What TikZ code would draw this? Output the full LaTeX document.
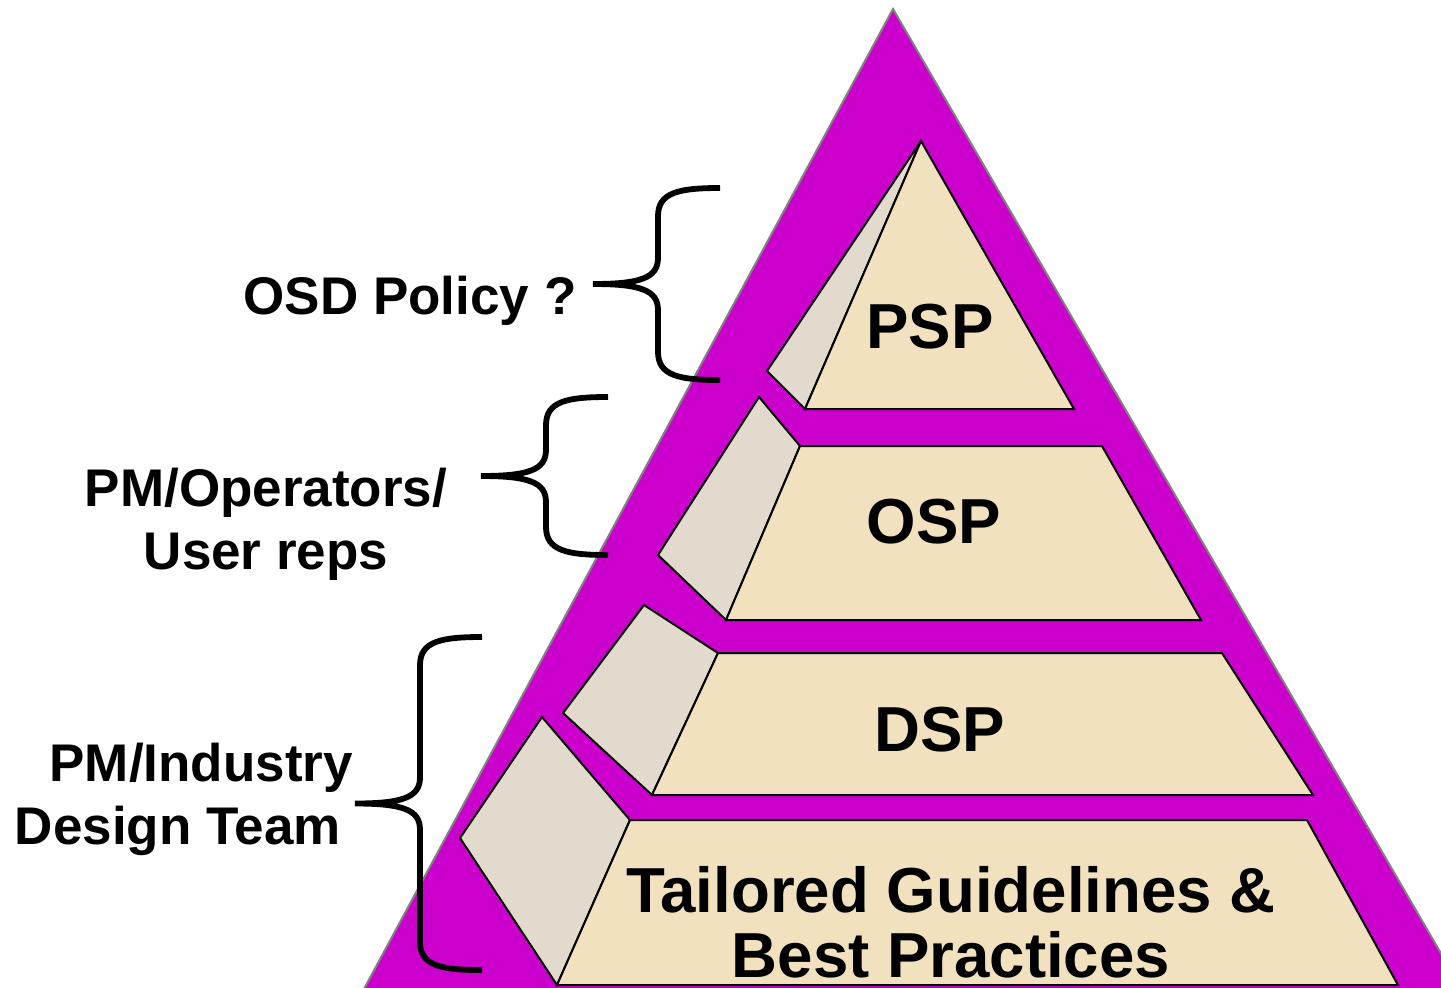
\documentclass[tikz,border=0pt]{standalone}
\usepackage{fontspec}
\setmainfont{Liberation Sans}
\usepackage{xcolor}
\usetikzlibrary{positioning}

\definecolor{pyrpurple}{RGB}{204,0,204}
\definecolor{pyrtan}{RGB}{241,225,190}
\definecolor{pyrside}{RGB}{226,218,205}

\tikzset{
  layer/.style={fill=pyrtan,draw=black,line width=1pt},
  side/.style={fill=pyrside,draw=black,line width=1pt},
  level/.style={font=\bfseries\fontsize{31.8}{32.5}\selectfont,align=center,anchor=base},
  who/.style={font=\bfseries\fontsize{26.5}{31.5}\selectfont,anchor=base},
  bracket/.style={draw=black,line width=2.9pt}
}

% curly bracket: ends at x=#1, from y=#2 down to y=#3, tip to the left
\newcommand{\curly}[3]{%
  \pgfmathsetmacro\ym{(#2+#3)/2}
  \draw[bracket] (#1,#2) .. controls (#1-40,#2) and (#1-62,#2+4) .. (#1-62,#2+28)
    -- (#1-62,\ym-26) .. controls (#1-62,\ym-6) and (#1-80,\ym) .. (#1-127,\ym)
    .. controls (#1-80,\ym) and (#1-62,\ym+6) .. (#1-62,\ym+26)
    -- (#1-62,#3-28) .. controls (#1-62,#3-4) and (#1-40,#3) .. (#1,#3);}

\begin{document}
\begin{tikzpicture}[x=0.5pt,y=-0.5pt]
  \useasboundingbox (0,0) rectangle (1441,987);
  \clip (0,0) rectangle (1441,987);

  % pyramid
  \draw[fill=pyrpurple,draw=gray,line width=1pt] (893,9) -- (1468,1000) -- (358,1000) -- cycle;

  \draw[side]  (921,141) -- (767,371) -- (805,409) -- cycle;
  \draw[layer] (921,141) -- (1074,409) -- (805,409) -- cycle;
  \draw[side]  (759,397) -- (800,446) -- (726,620) -- (658,555) -- cycle;
  \draw[layer] (800,446) -- (1102,446) -- (1201,620) -- (726,620) -- cycle;
  \draw[side]  (644,605) -- (718,653) -- (652,795) -- (563,713) -- cycle;
  \draw[layer] (718,653) -- (1222,653) -- (1313,795) -- (652,795) -- cycle;
  \draw[side]  (542,717) -- (630,820) -- (557,985) -- (460,838) -- cycle;
  \draw[layer] (630,820) -- (1307,820) -- (1398,985) -- (557,985) -- cycle;

  \node[level] (psp)  at (930,348) {PSP};
  \node[level] (osp)  at (934,543) {OSP};
  \node[level] (dsp)  at (940,751) {DSP};
  \node[level] (tgbp) at (951,977) {Tailored Guidelines \&\\Best Practices};

  % who writes what
  \curly{720}{188}{380}
  \curly{608}{397}{555}
  \curly{482}{637}{970}

  \node[who]                         (osd) at (410,314) {OSD Policy ?};
  \node[who,align=center]            (ops) at (266,569) {PM/Operators/\\User reps};
  \node[who,align=right,anchor=base east] (ind) at (360,844) {PM/Industry\\Design Team\hspace*{6pt}};
\end{tikzpicture}
\end{document}
